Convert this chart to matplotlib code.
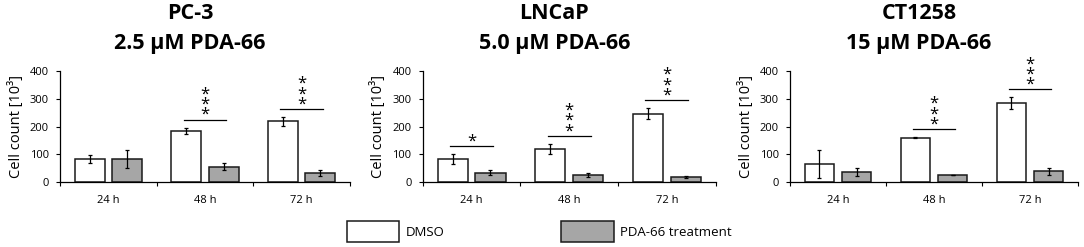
import matplotlib

matplotlib.use("Agg")
import matplotlib.pyplot as plt
from matplotlib.patches import Patch
import numpy as np

plt.rcParams["font.family"] = ["Open Sans", "DejaVu Sans"]

# cell count [10^3]
TIMES = ["24 h", "48 h", "72 h"]
CELL_LINES = ["PC-3", "LNCaP", "CT1258"]
DOSES = ["2.5 µM PDA-66", "5.0 µM PDA-66", "15 µM PDA-66"]
DMSO_MEAN = [[83, 184, 218], [83, 120, 246], [65, 160, 283]]
DMSO_ERR = [[15, 12, 16], [18, 18, 20], [50, 2, 21]]
PDA_MEAN = [[85, 56, 33], [35, 26, 19], [37, 26, 39]]
PDA_ERR = [[32, 12, 11], [9, 6, 4], [14, 1, 14]]
SIGNIF = [["", "***", "***"], ["*", "***", "***"], ["", "***", "***"]]

GRAY = "#a6a6a6"
EDGE = "#1a1a1a"
W, H = 1084, 247

fig = plt.figure(figsize=(W / 100, H / 100), dpi=100)
lefts = [60, 422.7, 790]
widths = [290, 293, 288]
bottom, height = 1 - 182.3 / H, 111.6 / H

x = np.arange(len(TIMES))
bw, off = 0.31, 0.193
for p in range(3):
    ax = fig.add_axes([lefts[p] / W, bottom, widths[p] / W, height])
    ek = dict(ecolor="black", elinewidth=0.9, capsize=1.6, capthick=0.9)
    ax.bar(x - off, DMSO_MEAN[p], bw, yerr=DMSO_ERR[p], color="white",
           edgecolor=EDGE, linewidth=1.1, error_kw=ek)
    ax.bar(x + off, PDA_MEAN[p], bw, yerr=PDA_ERR[p], color=GRAY,
           edgecolor=EDGE, linewidth=1.1, error_kw=ek)
    # significance bars, stars stacked vertically
    for i, s in enumerate(SIGNIF[p]):
        if not s:
            continue
        top = max(DMSO_MEAN[p][i] + DMSO_ERR[p][i], PDA_MEAN[p][i] + PDA_ERR[p][i])
        ly = top + 29
        ax.plot([i - 0.22, i + 0.22], [ly, ly], color="black", lw=0.9)
        ax.annotate("\n".join(s), (i, ly), xytext=(0, 0.3),
                    textcoords="offset points", ha="center", va="baseline",
                    fontsize=12, linespacing=0.52)
    ax.set_xlim(-0.5, 2.5)
    ax.set_ylim(0, 400)
    ax.set_yticks([0, 100, 200, 300, 400])
    ax.set_xticks([-0.5, 0.5, 1.5, 2.5])
    ax.set_xticklabels([])
    ax.set_xticks(x, minor=True)
    ax.set_xticklabels(TIMES, minor=True)
    ax.tick_params(axis="x", which="minor", length=0, pad=9.5, labelsize=8)
    ax.tick_params(axis="x", which="major", length=3, width=0.8, direction="out")
    ax.tick_params(axis="y", length=3, width=0.8, labelsize=8, pad=5)
    for sp in ("top", "right"):
        ax.spines[sp].set_visible(False)
    for sp in ("left", "bottom"):
        ax.spines[sp].set_linewidth(0.9)
    ax.set_ylabel("Cell count [10³]", fontsize=10.5)
    ax.yaxis.set_label_coords(-0.124, 0.5)
    cx = (lefts[p] + widths[p] / 2 - 15) / W
    fig.text(cx, 1 - 13.3 / H, CELL_LINES[p], ha="center", va="center",
             fontsize=15.5, fontweight="bold")
    fig.text(cx, 1 - 44 / H, DOSES[p], ha="center", va="center",
             fontsize=15.5, fontweight="bold")

handles = [Patch(facecolor="white", edgecolor=EDGE, linewidth=1.1),
           Patch(facecolor=GRAY, edgecolor=EDGE, linewidth=1.1)]
fig.legend(handles, ["DMSO", "PDA-66 treatment"], ncol=2, loc="center",
           bbox_to_anchor=(0.4975, 1 - 231.7 / H), frameon=False, fontsize=9.5,
           handlelength=4.0, handleheight=2.03, columnspacing=8.8, handletextpad=0.5)

fig.savefig("out.png", dpi=100)
